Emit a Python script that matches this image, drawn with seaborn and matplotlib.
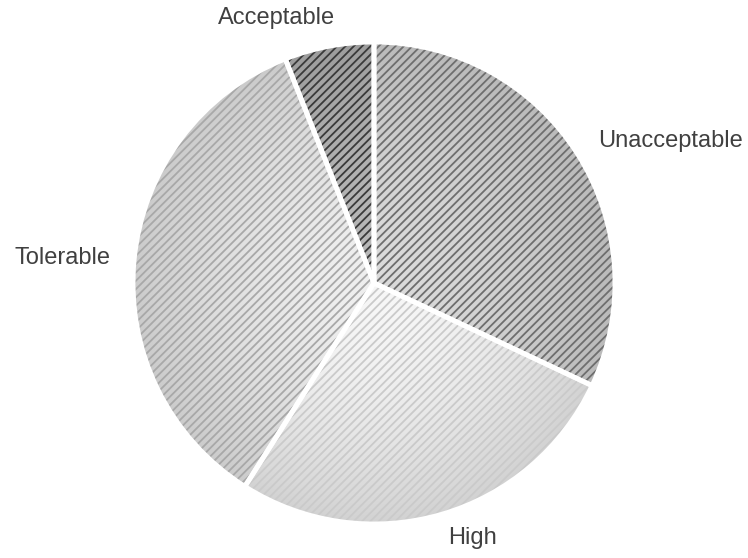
import numpy as np
import matplotlib
matplotlib.use("Agg")
import matplotlib.pyplot as plt
import seaborn as sns

# data (clockwise from 12 o'clock)
categories = ["Unacceptable", "High", "Tolerable", "Acceptable"]
shares = [32, 27, 35, 6]
face_colors = ["#dadada", "#f6f6f6", "#eeeeee", "#b8b8b8"]
hatch_colors = ["#6e6e6e", "#cacaca", "#a8a8a8", "#3a3a3a"]

sns.set_theme(style="white")
plt.rcParams["font.family"] = ["Liberation Sans", "DejaVu Sans"]
plt.rcParams["hatch.linewidth"] = 1.3

fig = plt.figure(figsize=(7.48, 5.58), dpi=100)
ax = fig.add_axes([0, 0, 1, 1])

common = dict(startangle=90, counterclock=False, radius=1.0)

# base fill + labels
wedges, texts = ax.pie(shares, labels=categories, colors=face_colors,
                       labeldistance=1.1, wedgeprops=dict(linewidth=0),
                       textprops=dict(fontsize=17, color="#404040"), **common)
for w in wedges:
    w.set_zorder(1)

# radial shading, darker towards the rim
n = 400
xs = np.linspace(-1, 1, n)
X, Y = np.meshgrid(xs, xs)
rr = np.sqrt(X ** 2 + Y ** 2)
shade = np.zeros((n, n, 4))
shade[..., 3] = 0.15 * np.clip(rr, 0, 1) ** 1.8
img = ax.imshow(shade, extent=[-1, 1, -1, 1], origin="lower", zorder=2,
                interpolation="bilinear")
circ = plt.Circle((0, 0), 1.0, transform=ax.transData)
img.set_clip_path(circ)

# hatch layer
hw, _ = ax.pie(shares, colors=["none"] * 4, wedgeprops=dict(linewidth=0), **common)
for w, hc in zip(hw, hatch_colors):
    w.set_facecolor("none")
    w.set_edgecolor(hc)
    w.set_hatch("////")
    w.set_zorder(3)

# white separators
ew, _ = ax.pie(shares, colors=["none"] * 4,
               wedgeprops=dict(linewidth=3.5, edgecolor="white"), **common)
for w in ew:
    w.set_facecolor("none")
    w.set_zorder(4)

# small nudge for the "Acceptable" label (sits a bit lower / to the right)
x0, y0 = texts[3].get_position()
texts[3].set_position((x0 + 0.045, y0 + 0.02))

# pie centre at (374, 283) px, radius ~241 px
R = 241.0
cx, cy = 374.0, 283.0
ax.set_aspect("equal")
ax.set_xlim(-cx / R, (748 - cx) / R)
ax.set_ylim(-(558 - cy) / R, cy / R)
ax.axis("off")

fig.savefig("out.png", dpi=100)
